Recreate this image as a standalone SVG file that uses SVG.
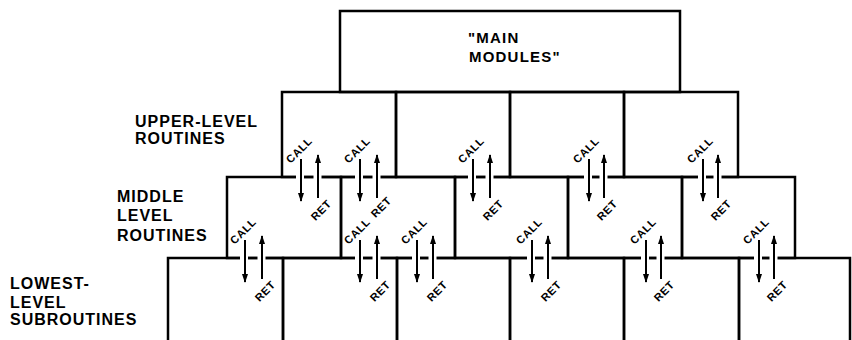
<svg xmlns="http://www.w3.org/2000/svg" width="852" height="340" viewBox="0 0 852 340">
<style>
.box{fill:none;stroke:#000;stroke-width:2.5}
.gap{fill:#fff;stroke:none}
.arr{stroke:#000;stroke-width:2;fill:none;marker-end:url(#ah)}
.lbl{font-family:"Liberation Sans",Arial,sans-serif;font-weight:bold;font-size:16px;letter-spacing:1px;fill:#000}
.main{font-family:"Liberation Sans",Arial,sans-serif;font-weight:bold;font-size:15px;letter-spacing:1.2px;fill:#000}
.sm{font-family:"Liberation Sans",Arial,sans-serif;font-weight:bold;font-size:11px;letter-spacing:0.6px;fill:#000;text-anchor:middle}
</style>
<defs>
<marker id="ah" viewBox="0 0 9 6" refX="8" refY="3" markerWidth="9" markerHeight="6" orient="auto" markerUnits="userSpaceOnUse"><path d="M0,0 L9,3 L0,6 z" fill="#000"/></marker>
</defs>
<rect width="852" height="340" fill="#fff"/>
<g id="main-modules"><rect class="box" x="340" y="11" width="340" height="81"/><text class="main" x="468" y="43">"MAIN</text><text class="main" x="469" y="62">MODULES"</text></g>
<g id="upper-1"><rect class="box" x="282" y="92" width="114" height="85"/></g>
<g id="upper-2"><rect class="box" x="396" y="92" width="114" height="85"/></g>
<g id="upper-3"><rect class="box" x="510" y="92" width="114" height="85"/></g>
<g id="upper-4"><rect class="box" x="624" y="92" width="114" height="85"/></g>
<g id="middle-1"><rect class="box" x="227" y="177" width="114" height="81"/></g>
<g id="middle-2"><rect class="box" x="341" y="177" width="114" height="81"/></g>
<g id="middle-3"><rect class="box" x="455" y="177" width="113" height="81"/></g>
<g id="middle-4"><rect class="box" x="568" y="177" width="114" height="81"/></g>
<g id="middle-5"><rect class="box" x="682" y="177" width="113" height="81"/></g>
<g id="lowest-1"><rect class="box" x="168" y="258" width="115" height="100"/></g>
<g id="lowest-2"><rect class="box" x="283" y="258" width="114" height="100"/></g>
<g id="lowest-3"><rect class="box" x="397" y="258" width="113" height="100"/></g>
<g id="lowest-4"><rect class="box" x="510" y="258" width="114" height="100"/></g>
<g id="lowest-5"><rect class="box" x="624" y="258" width="115" height="100"/></g>
<g id="lowest-6"><rect class="box" x="739" y="258" width="111" height="100"/></g>
<g id="level-labels">
<text class="lbl" x="135" y="127">UPPER-LEVEL</text><text class="lbl" x="135" y="144">ROUTINES</text>
<text class="lbl" x="117" y="202">MIDDLE</text><text class="lbl" x="117" y="221">LEVEL</text><text class="lbl" x="117" y="241">ROUTINES</text>
<text class="lbl" x="10" y="289">LOWEST-</text><text class="lbl" x="10" y="308">LEVEL</text><text class="lbl" x="10" y="325">SUBROUTINES</text>
</g>
<g id="connectors">
<g>
<rect class="gap" x="296" y="174" width="8" height="6"/><rect class="gap" x="313.5" y="174" width="8" height="6"/>
<path class="arr" d="M301,159 V201"/><path class="arr" d="M318,198 V155"/>
<text class="sm" x="0" y="4" style="transform:translate(299px,150px) rotate(-45deg)">CALL</text>
<text class="sm" x="0" y="4" style="transform:translate(321px,210px) rotate(-45deg)">RET</text>
</g>
<g>
<rect class="gap" x="355" y="174" width="8" height="6"/><rect class="gap" x="372.5" y="174" width="8" height="6"/>
<path class="arr" d="M360,159 V201"/><path class="arr" d="M377,198 V155"/>
<text class="sm" x="0" y="4" style="transform:translate(357px,150px) rotate(-45deg)">CALL</text>
<text class="sm" x="0" y="4" style="transform:translate(381px,207px) rotate(-45deg)">RET</text>
</g>
<g>
<rect class="gap" x="468" y="174" width="8" height="6"/><rect class="gap" x="485.5" y="174" width="8" height="6"/>
<path class="arr" d="M473,159 V201"/><path class="arr" d="M490,198 V155"/>
<text class="sm" x="0" y="4" style="transform:translate(471px,150px) rotate(-45deg)">CALL</text>
<text class="sm" x="0" y="4" style="transform:translate(493px,210px) rotate(-45deg)">RET</text>
</g>
<g>
<rect class="gap" x="584" y="174" width="8" height="6"/><rect class="gap" x="599.5" y="174" width="8" height="6"/>
<path class="arr" d="M589,159 V201"/><path class="arr" d="M604,198 V155"/>
<text class="sm" x="0" y="4" style="transform:translate(586px,150px) rotate(-45deg)">CALL</text>
<text class="sm" x="0" y="4" style="transform:translate(607px,210px) rotate(-45deg)">RET</text>
</g>
<g>
<rect class="gap" x="698" y="174" width="8" height="6"/><rect class="gap" x="713.5" y="174" width="8" height="6"/>
<path class="arr" d="M703,159 V201"/><path class="arr" d="M718,198 V155"/>
<text class="sm" x="0" y="4" style="transform:translate(700px,150px) rotate(-45deg)">CALL</text>
<text class="sm" x="0" y="4" style="transform:translate(721px,210px) rotate(-45deg)">RET</text>
</g>
<g>
<rect class="gap" x="240" y="255" width="8" height="6"/><rect class="gap" x="257.5" y="255" width="8" height="6"/>
<path class="arr" d="M245,240 V282"/><path class="arr" d="M262,279 V236"/>
<text class="sm" x="0" y="4" style="transform:translate(243px,231px) rotate(-45deg)">CALL</text>
<text class="sm" x="0" y="4" style="transform:translate(265px,291px) rotate(-45deg)">RET</text>
</g>
<g>
<rect class="gap" x="355" y="255" width="8" height="6"/><rect class="gap" x="372.5" y="255" width="8" height="6"/>
<path class="arr" d="M360,240 V282"/><path class="arr" d="M377,279 V236"/>
<text class="sm" x="0" y="4" style="transform:translate(357px,231px) rotate(-45deg)">CALL</text>
<text class="sm" x="0" y="4" style="transform:translate(380px,291px) rotate(-45deg)">RET</text>
</g>
<g>
<rect class="gap" x="412" y="255" width="8" height="6"/><rect class="gap" x="428.5" y="255" width="8" height="6"/>
<path class="arr" d="M417,240 V282"/><path class="arr" d="M433,279 V236"/>
<text class="sm" x="0" y="4" style="transform:translate(414px,231px) rotate(-45deg)">CALL</text>
<text class="sm" x="0" y="4" style="transform:translate(437px,291px) rotate(-45deg)">RET</text>
</g>
<g>
<rect class="gap" x="527" y="255" width="8" height="6"/><rect class="gap" x="543.5" y="255" width="8" height="6"/>
<path class="arr" d="M532,240 V282"/><path class="arr" d="M548,279 V236"/>
<text class="sm" x="0" y="4" style="transform:translate(529px,231px) rotate(-45deg)">CALL</text>
<text class="sm" x="0" y="4" style="transform:translate(551px,291px) rotate(-45deg)">RET</text>
</g>
<g>
<rect class="gap" x="641" y="255" width="8" height="6"/><rect class="gap" x="656.5" y="255" width="8" height="6"/>
<path class="arr" d="M646,240 V282"/><path class="arr" d="M661,279 V236"/>
<text class="sm" x="0" y="4" style="transform:translate(643px,231px) rotate(-45deg)">CALL</text>
<text class="sm" x="0" y="4" style="transform:translate(664px,291px) rotate(-45deg)">RET</text>
</g>
<g>
<rect class="gap" x="754" y="255" width="8" height="6"/><rect class="gap" x="769.5" y="255" width="8" height="6"/>
<path class="arr" d="M759,240 V282"/><path class="arr" d="M774,279 V236"/>
<text class="sm" x="0" y="4" style="transform:translate(756px,231px) rotate(-45deg)">CALL</text>
<text class="sm" x="0" y="4" style="transform:translate(777px,291px) rotate(-45deg)">RET</text>
</g>
</g>
</svg>
